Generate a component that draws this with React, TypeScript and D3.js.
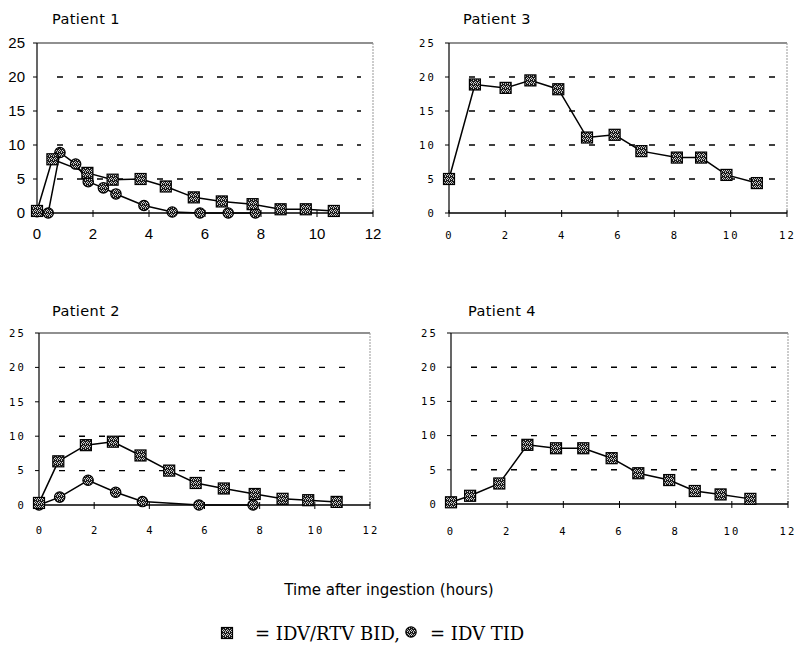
import React from "react";
import * as d3 from "d3";

type Pt = [number, number];

// Concentration (y) against time after ingestion in hours (x)
const p1Bid: Pt[] = [[0, 0.3], [0.55, 7.9], [1.8, 5.9], [2.7, 4.9], [3.7, 5.0], [4.6, 3.9], [5.6, 2.3], [6.6, 1.7], [7.7, 1.3], [8.7, 0.55], [9.6, 0.55], [10.6, 0.3]];
const p1Tid: Pt[] = [[0, 0.2], [0.4, 0], [0.82, 8.9], [1.38, 7.2], [1.83, 4.6], [2.37, 3.7], [2.82, 2.8], [3.82, 1.1], [4.83, 0.15], [5.82, 0], [6.83, 0], [7.8, 0]];
const p2Bid: Pt[] = [[0, 0.3], [0.7, 6.35], [1.7, 8.7], [2.68, 9.2], [3.68, 7.2], [4.72, 5.0], [5.68, 3.2], [6.7, 2.4], [7.82, 1.6], [8.83, 0.9], [9.76, 0.7], [10.79, 0.45]];
const p2Tid: Pt[] = [[0, 0], [0.75, 1.15], [1.78, 3.6], [2.78, 1.85], [3.75, 0.5], [5.8, 0], [7.76, 0]];
const p3Bid: Pt[] = [[0, 5], [0.92, 18.9], [2.01, 18.4], [2.89, 19.5], [3.88, 18.2], [4.9, 11.1], [5.88, 11.5], [6.83, 9.1], [8.09, 8.15], [8.95, 8.15], [9.85, 5.6], [10.93, 4.4]];
const p4Bid: Pt[] = [[0, 0.25], [0.68, 1.2], [1.72, 3.0], [2.72, 8.65], [3.74, 8.15], [4.71, 8.15], [5.72, 6.7], [6.67, 4.5], [7.77, 3.5], [8.68, 1.9], [9.6, 1.4], [10.66, 0.75]];

const xTicks = [0, 2, 4, 6, 8, 10, 12];
const yTicks = [0, 5, 10, 15, 20, 25];
const gridValues = [5, 10, 15, 20];

const titles = ["Patient 1", "Patient 2", "Patient 3", "Patient 4"];
const axisTitle = "Time after ingestion (hours)";
const legendBid = "= IDV/RTV BID,";
const legendTid = "= IDV TID";

interface PanelDef {
  title: string;
  left: number;
  right: number;
  top: number;
  bottom: number;
  titleX: number;
  titleY: number;
  bid: Pt[];
  tid?: Pt[];
  tickFont: string;
  tickSize: number;
  tickSpacing: number;
  yLabelRight: number;
  xLabelY: number;
  xLabelShift: number;
}

const monoFont = "'DejaVu Sans Mono', monospace";

const panels: PanelDef[] = [
  { title: titles[0], left: 37, right: 373, top: 43, bottom: 213, titleX: 52, titleY: 24, bid: p1Bid, tid: p1Tid, tickFont: "'Liberation Sans', Arial, sans-serif", tickSize: 15, tickSpacing: 0, yLabelRight: 25, xLabelY: 239, xLabelShift: 0 },
  { title: titles[1], left: 39, right: 370, top: 333, bottom: 505, titleX: 52, titleY: 316, bid: p2Bid, tid: p2Tid, tickFont: monoFont, tickSize: 10.5, tickSpacing: 2.2, yLabelRight: 26, xLabelY: 534, xLabelShift: 0 },
  { title: titles[2], left: 449, right: 787, top: 43, bottom: 213, titleX: 463, titleY: 24, bid: p3Bid, tickFont: monoFont, tickSize: 10.5, tickSpacing: 2.2, yLabelRight: 436, xLabelY: 239, xLabelShift: -0.5 },
  { title: titles[3], left: 451, right: 788, top: 333, bottom: 504, titleX: 468, titleY: 316, bid: p4Bid, tickFont: monoFont, tickSize: 10.5, tickSpacing: 2.2, yLabelRight: 438, xLabelY: 535, xLabelShift: -1 },
];

function Square({ x, y }: { x: number; y: number }) {
  return <rect x={x - 5.5} y={y - 5.5} width={11} height={11} fill="url(#stipple)" stroke="#000" strokeWidth={1.2} />;
}

function Dot({ x, y }: { x: number; y: number }) {
  return <circle cx={x} cy={y} r={5.2} fill="url(#stipple)" stroke="#000" strokeWidth={1.2} />;
}

function Panel({ p }: { p: PanelDef }) {
  const x = d3.scaleLinear().domain([0, 12]).range([p.left, p.right]);
  const y = d3.scaleLinear().domain([0, 25]).range([p.bottom, p.top]);
  const line = d3.line<Pt>().x((d) => x(d[0])).y((d) => y(d[1]));
  return (
    <g>
      <text x={p.titleX} y={p.titleY} fontFamily="'DejaVu Sans', Verdana, sans-serif" fontSize={14.5} letterSpacing={0.4}>
        {p.title}
      </text>
      {/* dashed gridlines */}
      {gridValues.map((v) => (
        <line key={v} x1={p.left + 20} x2={p.right - 12} y1={y(v)} y2={y(v)} stroke="#000" strokeWidth={1.4} strokeDasharray="6 14" />
      ))}
      {/* frame */}
      <line x1={p.left} x2={p.right} y1={p.top} y2={p.top} stroke="#222" strokeWidth={1.2} />
      <line x1={p.right} x2={p.right} y1={p.top} y2={p.bottom} stroke="#999" strokeWidth={1} strokeDasharray="2 1" />
      <line x1={p.left} x2={p.left} y1={p.top} y2={p.bottom} stroke="#000" strokeWidth={1.2} />
      <line x1={p.left} x2={p.right} y1={p.bottom} y2={p.bottom} stroke="#000" strokeWidth={1.5} />
      {/* y ticks */}
      {yTicks.map((v) => (
        <g key={v}>
          <line x1={p.left - 4} x2={p.left} y1={y(v)} y2={y(v)} stroke="#000" strokeWidth={1} />
          <text x={p.yLabelRight} y={y(v)} dy="0.36em" textAnchor="end" fontFamily={p.tickFont} fontSize={p.tickSize} letterSpacing={p.tickSpacing}>
            {v}
          </text>
        </g>
      ))}
      {/* x ticks */}
      {xTicks.map((v) => (
        <g key={v}>
          <line x1={x(v)} x2={x(v)} y1={p.bottom - 3} y2={p.bottom + 4} stroke="#000" strokeWidth={1} />
          <text x={x(v) + p.tickSpacing / 2 + p.xLabelShift} y={p.xLabelY} textAnchor="middle" fontFamily={p.tickFont} fontSize={p.tickSize} letterSpacing={p.tickSpacing}>
            {v}
          </text>
        </g>
      ))}
      {p.tid && <path d={line(p.tid) || ""} fill="none" stroke="#000" strokeWidth={1.5} />}
      <path d={line(p.bid) || ""} fill="none" stroke="#000" strokeWidth={1.5} />
      {p.tid && p.tid.map((d, i) => <Dot key={"t" + i} x={x(d[0])} y={y(d[1])} />)}
      {p.bid.map((d, i) => <Square key={"b" + i} x={x(d[0])} y={y(d[1])} />)}
    </g>
  );
}

export default function App() {
  return (
    <svg width={796} height={645} style={{ position: "absolute", left: 0, top: 0, background: "#fff" }}>
      <defs>
        <pattern id="stipple" patternUnits="userSpaceOnUse" width={4} height={4}>
          <rect width={4} height={4} fill="#1a1a1a" />
          <rect x={1} y={0} width={1} height={1} fill="#d0d0d0" />
          <rect x={3} y={1} width={1} height={1} fill="#b0b0b0" />
          <rect x={0} y={2} width={1} height={1} fill="#c8c8c8" />
          <rect x={2} y={2} width={1} height={1} fill="#e0e0e0" />
          <rect x={1} y={3} width={1} height={1} fill="#a0a0a0" />
          <rect x={3} y={3} width={1} height={1} fill="#d8d8d8" />
        </pattern>
      </defs>
      <rect width={796} height={645} fill="#fff" />
      {panels.map((p) => (
        <Panel key={p.title} p={p} />
      ))}
      <text x={389} y={595} textAnchor="middle" fontFamily="'DejaVu Sans', Verdana, sans-serif" fontSize={15}>
        {axisTitle}
      </text>
      <Square x={227} y={633} />
      <text x={255} y={640} fontFamily="'DejaVu Serif', serif" fontSize={18}>
        {legendBid}
      </text>
      <Dot x={411} y={632} />
      <text x={430} y={640} fontFamily="'DejaVu Serif', serif" fontSize={18}>
        {legendTid}
      </text>
    </svg>
  );
}
